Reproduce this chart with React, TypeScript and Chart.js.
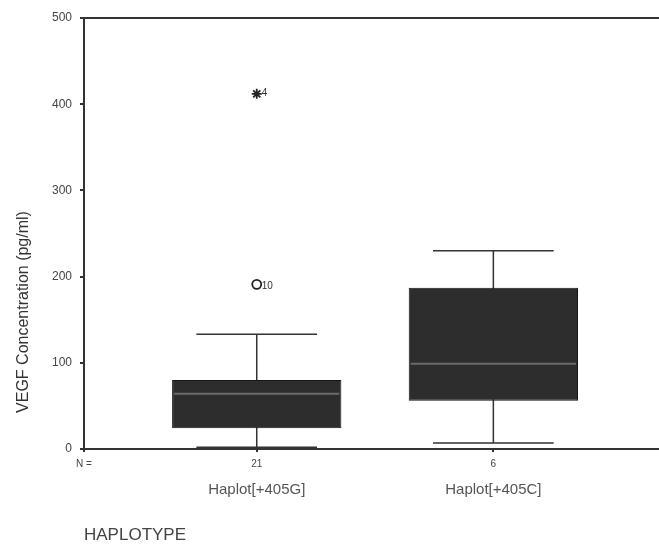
import { useEffect, useRef } from 'react';
import { Chart, registerables } from 'chart.js';

Chart.register(...registerables);

// ---- data ----
const categories = ['Haplot[+405G]', 'Haplot[+405C]'];
const positions = [1, 2];
const nCounts = ['21', '6'];
const whiskerLow = [2, 7];
const q1 = [24, 56];
const median = [64, 99];
const q3 = [80, 187];
const whiskerHigh = [133, 230];
const outliers = [{ x: 1, y: 191 }];
const outlierIds = ['10'];
const extremes = [{ x: 1, y: 412 }];
const extremeIds = ['4'];
const yMin = 0;
const yMax = 500;
const yStep = 100;
const xMin = 0.27;
const xMax = 2.7;

const FONT = '"Liberation Sans", Arial, sans-serif';

const boxPlugin = {
  id: 'boxExtras',
  beforeDatasetsDraw(chart: any) {
    const { ctx, scales } = chart;
    const xs = scales.x;
    const ys = scales.y;
    ctx.save();
    ctx.strokeStyle = '#333';
    ctx.lineWidth = 1.5;
    positions.forEach((p, i) => {
      const cx = xs.getPixelForValue(p);
      const half = (xs.getPixelForValue(p + 0.255) - cx);
      const yl = ys.getPixelForValue(whiskerLow[i]);
      const yh = ys.getPixelForValue(whiskerHigh[i]);
      ctx.beginPath();
      ctx.moveTo(cx, yl);
      ctx.lineTo(cx, yh);
      ctx.moveTo(cx - half, yl);
      ctx.lineTo(cx + half, yl);
      ctx.moveTo(cx - half, yh);
      ctx.lineTo(cx + half, yh);
      ctx.stroke();
    });
    ctx.restore();
  },
  afterDatasetsDraw(chart: any) {
    const { ctx, scales, chartArea } = chart;
    const xs = scales.x;
    const ys = scales.y;
    ctx.save();
    // medians
    const meta = chart.getDatasetMeta(0);
    positions.forEach((p, i) => {
      const bar = meta.data[i];
      const w = bar.width;
      const ym = ys.getPixelForValue(median[i]);
      ctx.strokeStyle = '#6b6b6b';
      ctx.lineWidth = 2;
      ctx.beginPath();
      ctx.moveTo(bar.x - w / 2 + 2, ym);
      ctx.lineTo(bar.x + w / 2 - 2, ym);
      ctx.stroke();
    });
    // outlier labels
    ctx.fillStyle = '#333';
    ctx.font = `10px ${FONT}`;
    ctx.textBaseline = 'middle';
    ctx.textAlign = 'left';
    outliers.forEach((o, i) => {
      ctx.fillText(outlierIds[i], xs.getPixelForValue(o.x) + 5, ys.getPixelForValue(o.y) + 2);
    });
    extremes.forEach((o, i) => {
      ctx.fillText(extremeIds[i], xs.getPixelForValue(o.x) + 5, ys.getPixelForValue(o.y) - 1);
    });
    // top frame line
    ctx.strokeStyle = '#333';
    ctx.lineWidth = 2;
    ctx.beginPath();
    ctx.moveTo(chartArea.left, chartArea.top);
    ctx.lineTo(chartArea.right, chartArea.top);
    ctx.stroke();
    ctx.restore();
  },
  afterDraw(chart: any) {
    const { ctx, scales, chartArea } = chart;
    const xs = scales.x;
    ctx.save();
    // category labels
    ctx.fillStyle = '#555';
    ctx.font = `15px ${FONT}`;
    ctx.textAlign = 'center';
    ctx.textBaseline = 'middle';
    positions.forEach((p, i) => {
      ctx.fillText(categories[i], xs.getPixelForValue(p), chartArea.bottom + 41);
    });
    // y title
    ctx.fillStyle = '#333';
    ctx.font = `16px ${FONT}`;
    ctx.translate(24, 312);
    ctx.rotate(-Math.PI / 2);
    ctx.fillText('VEGF Concentration (pg/ml)', 0, 0);
    ctx.restore();
  },
};

export default function App() {
  const ref = useRef<HTMLCanvasElement | null>(null);
  useEffect(() => {
    document.body.style.margin = '0';
    const canvas = ref.current;
    if (!canvas) return;
    const xLabels = ['N =', ...nCounts];
    const chart = new Chart(canvas, {
      type: 'bar',
      data: {
        datasets: [
          {
            type: 'bar',
            data: positions.map((p, i) => ({ x: p, y: [q1[i], q3[i]] })) as any,
            backgroundColor: '#2d2d2d',
            borderColor: '#151515',
            borderWidth: 1,
            borderSkipped: false,
            barPercentage: 0.98,
            categoryPercentage: 1,
            grouped: false,
          } as any,
          {
            type: 'scatter',
            data: outliers as any,
            pointStyle: 'circle',
            pointRadius: 4.5,
            borderColor: '#222',
            borderWidth: 1.8,
            backgroundColor: 'rgba(0,0,0,0)',
          } as any,
          {
            type: 'scatter',
            data: extremes as any,
            pointStyle: 'star',
            pointRadius: 5,
            borderColor: '#222',
            borderWidth: 1.8,
            backgroundColor: 'rgba(0,0,0,0)',
          } as any,
        ],
      },
      options: {
        animation: false,
        responsive: false,
        devicePixelRatio: 1,
        layout: { padding: { top: 18, right: 0, bottom: 0, left: 0 }, autoPadding: false },
        plugins: { legend: { display: false }, tooltip: { enabled: false } },
        scales: {
          x: {
            type: 'linear',
            min: xMin,
            max: xMax,
            offset: false,
            afterFit: (s: any) => { s.height = 99; s.paddingLeft = 0; s.paddingRight = 0; },
            afterBuildTicks: (s: any) => {
              s.ticks = [{ value: xMin }, ...positions.map((p) => ({ value: p }))];
            },
            ticks: {
              autoSkip: false,
              maxRotation: 0,
              padding: 6,
              color: '#444',
              font: { family: FONT, size: 10 },
              callback: (_v: any, i: number) => xLabels[i],
            },
            grid: { offset: false, drawOnChartArea: false, drawTicks: true, tickLength: 3, color: '#333', lineWidth: 2 },
            border: { display: true, color: '#333', width: 2 },
            title: {
              display: true,
              text: 'HAPLOTYPE',
              align: 'start',
              color: '#444',
              font: { family: FONT, size: 17 },
              padding: { top: 0, bottom: 2 },
            },
          },
          y: {
            min: yMin,
            max: yMax,
            afterFit: (s: any) => { s.width = 84; },
            ticks: {
              stepSize: yStep,
              padding: 8,
              color: '#444',
              font: { family: FONT, size: 12 },
            },
            grid: { drawOnChartArea: false, drawTicks: true, tickLength: 4, color: '#333', lineWidth: 2 },
            border: { display: true, color: '#333', width: 2 },
          },
        },
      },
      plugins: [boxPlugin],
    } as any);
    return () => chart.destroy();
  }, []);
  return (
    <div style={{ width: 659, height: 548, background: '#fff' }}>
      <canvas ref={ref} width={659} height={548} />
    </div>
  );
}
